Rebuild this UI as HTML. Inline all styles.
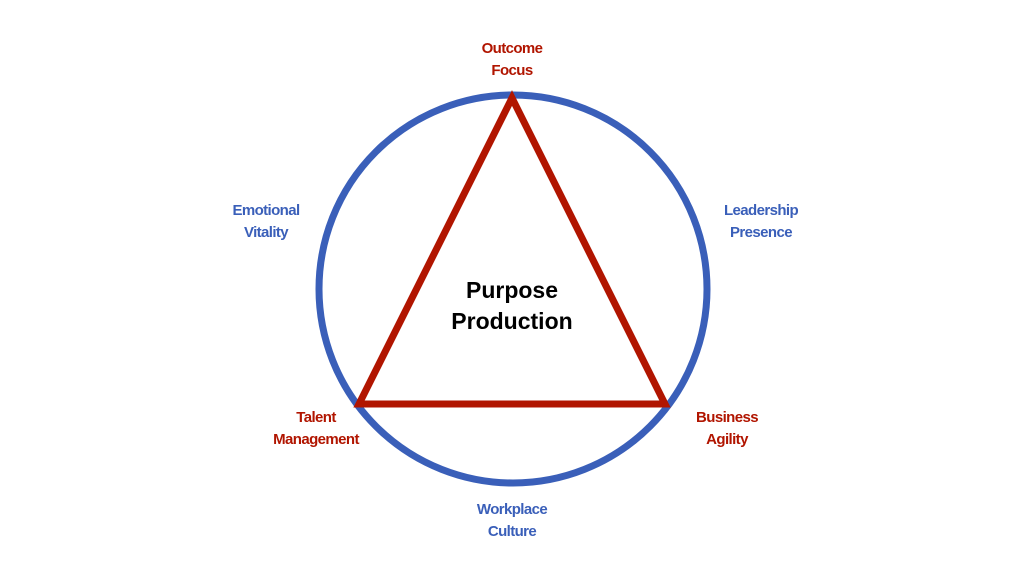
<!DOCTYPE html>
<html><head><style>
body{margin:0;width:1024px;height:576px;background:#fff;overflow:hidden;}
</style></head><body>
<svg width="1024" height="576" xmlns="http://www.w3.org/2000/svg" font-family="Liberation Sans, sans-serif" font-weight="bold" text-anchor="middle">
<circle cx="513" cy="289" r="194" fill="none" stroke="#3a5fb9" stroke-width="7"/>
<polygon points="512,98 359,404 665,404" fill="none" stroke="#b11500" stroke-width="7" stroke-linejoin="miter"/>
<g font-size="15" fill="#b11500" letter-spacing="-0.6">
<text x="512" y="53">Outcome</text><text x="512" y="75">Focus</text>
<text x="316" y="422">Talent</text><text x="316" y="444">Management</text>
<text x="727" y="422">Business</text><text x="727" y="444">Agility</text>
</g>
<g font-size="15" fill="#3a5fb9" letter-spacing="-0.6">
<text x="266" y="215">Emotional</text><text x="266" y="237">Vitality</text>
<text x="761" y="215">Leadership</text><text x="761" y="237">Presence</text>
<text x="512" y="514">Workplace</text><text x="512" y="536">Culture</text>
</g>
<g font-size="23" fill="#000">
<text x="512" y="298">Purpose</text><text x="512" y="329">Production</text>
</g>
</svg>
</body></html>
